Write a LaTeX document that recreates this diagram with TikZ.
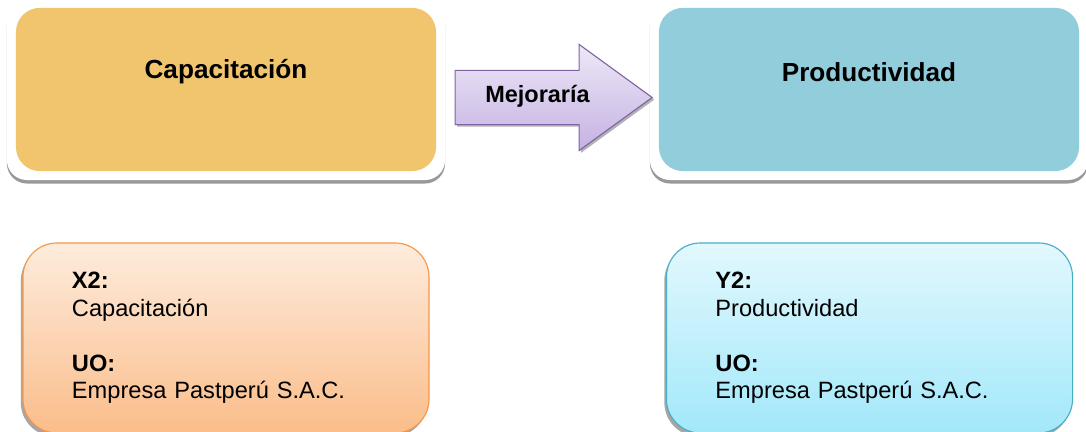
\documentclass[tikz,border=0pt]{standalone}
\usepackage{fontspec}
\setmainfont{Liberation Sans}
\usetikzlibrary{shapes.arrows, shadows, positioning}

\definecolor{capfill}{HTML}{F0C56E}
\definecolor{prodfill}{HTML}{92CDDC}
\definecolor{orangeline}{HTML}{F79646}
\definecolor{orangetop}{HTML}{FDECDD}
\definecolor{orangebot}{HTML}{FBBD8A}
\definecolor{tealline}{HTML}{4BACC6}
\definecolor{tealtop}{HTML}{E2F8FD}
\definecolor{tealbot}{HTML}{A2E8FA}
\definecolor{arrowline}{HTML}{8064A2}
\definecolor{arrowtop}{HTML}{EEE8F8}
\definecolor{arrowbot}{HTML}{C4B2E2}

\begin{document}
\begin{tikzpicture}[
    x=0.025cm, y=-0.025cm,
    plate/.style={rectangle, rounded corners=0.5cm, fill=white, minimum width=10.95cm, minimum height=4.45cm,
        drop shadow={shadow xshift=0pt, shadow yshift=-2.5pt, fill=gray!80, opacity=1}},
    topbox/.style={rectangle, rounded corners=0.6cm, minimum width=10.5cm, minimum height=4.08cm},
    title/.style={font=\fontsize{18.6}{22}\selectfont\bfseries},
    infobox/.style={rectangle, rounded corners=0.85cm, line width=0.8pt, minimum width=10.15cm, minimum height=4.75cm,
        text width=7.7cm, inner xsep=0pt, align=left, font=\fontsize{16.8}{19.5}\selectfont,
        drop shadow={shadow xshift=-1.5pt, shadow yshift=-2.5pt, fill=gray!70, opacity=1}},
    bigarrow/.style={single arrow, draw=arrowline, line width=0.8pt, top color=arrowtop, bottom color=arrowbot,
        minimum height=4.925cm, single arrow head extend=0.65cm, single arrow tip angle=72,
        text height=0.42cm, text depth=0.18cm, inner xsep=0pt, inner ysep=0.3625cm,
        font=\fontsize{16.7}{20}\selectfont\bfseries,
        drop shadow={shadow xshift=1.5pt, shadow yshift=-1.5pt, fill=gray!60, opacity=1}}
]
\useasboundingbox (0,0) rectangle (1086,432);

\node[plate] (capplate) at (226,91) {};
\node[topbox, fill=capfill] (cap) at (226,89.5) {};
\node[title] (captxt) at (226,72) {Capacitación};

\node[plate] (prodplate) at (869,91) {};
\node[topbox, fill=prodfill] (prod) at (869,89.5) {};
\node[title] (prodtxt) at (869,72) {Productividad};

\node[bigarrow] (mejora) at (535,97.5) {\hspace*{0.125cm}Mejoraría};

\node[infobox, draw=orangeline, top color=orangetop, bottom color=orangebot] (xvar) at (226,338)
    {\textbf{X2:}\\Capacitación\\[19.5pt]\textbf{UO:}\\Empresa Pastperú S.A.C.};
\node[infobox, draw=tealline, top color=tealtop, bottom color=tealbot] (yvar) at (869.5,338)
    {\textbf{Y2:}\\Productividad\\[19.5pt]\textbf{UO:}\\Empresa Pastperú S.A.C.};
\end{tikzpicture}
\end{document}
